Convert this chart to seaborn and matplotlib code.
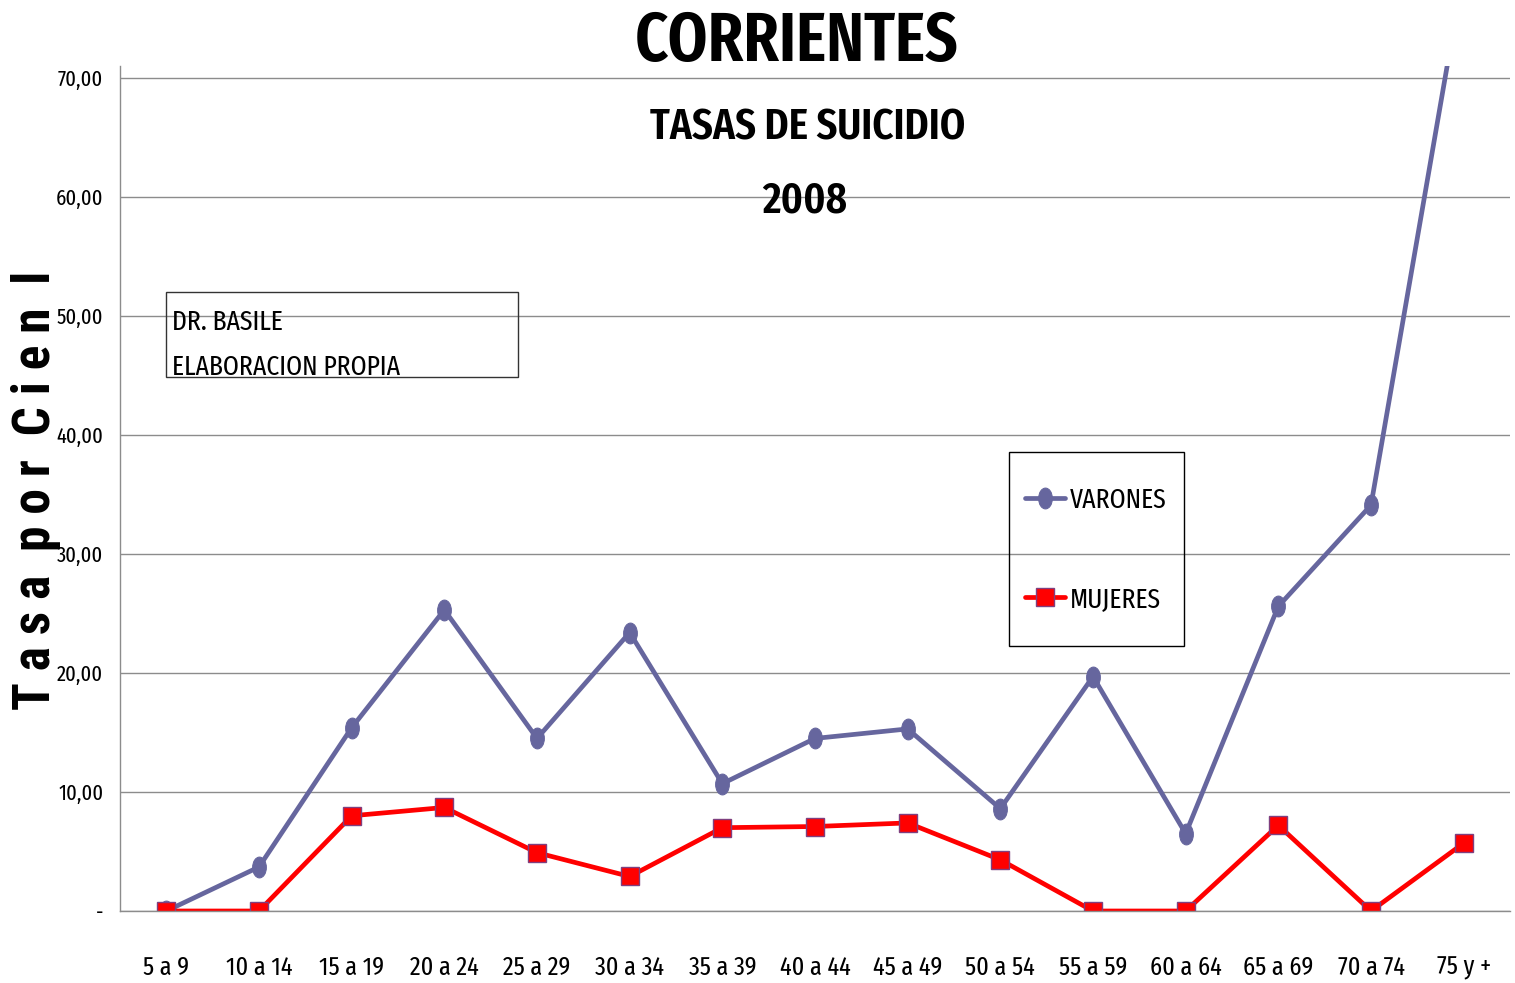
import numpy as np
import pandas as pd
import matplotlib
matplotlib.use("Agg")
import matplotlib.pyplot as plt
import matplotlib.path as mpath
import matplotlib.patches as mpatches
import seaborn as sns

categorias = ["5 a 9", "10 a 14", "15 a 19", "20 a 24", "25 a 29", "30 a 34", "35 a 39",
              "40 a 44", "45 a 49", "50 a 54", "55 a 59", "60 a 64", "65 a 69", "70 a 74", "75 y +"]
varones = [0.0, 3.7, 15.4, 25.3, 14.5, 23.4, 10.7, 14.5, 15.3, 8.6, 19.7, 6.5, 25.6, 34.1, 79.0]
mujeres = [0.0, 0.0, 8.0, 8.7, 4.9, 2.9, 7.0, 7.1, 7.4, 4.3, 0.0, 0.0, 7.2, 0.0, 5.7]
yticks = [0, 10, 20, 30, 40, 50, 60, 70]
ytick_labels = ["-", "10,00", "20,00", "30,00", "40,00", "50,00", "60,00", "70,00"]

sns.set_theme(style="white")
FONT = ["Fira Sans Extra Condensed", "DejaVu Sans"]
YFONT = ["Roboto Condensed", "DejaVu Sans"]
plt.rcParams["font.family"] = FONT

df = pd.concat([
    pd.DataFrame({"grupo": categorias, "tasa": varones, "sexo": "VARONES"}),
    pd.DataFrame({"grupo": categorias, "tasa": mujeres, "sexo": "MUJERES"}),
])

fig = plt.figure(figsize=(15.15, 9.83), dpi=100)
ax = fig.add_axes([120 / 1515, 1 - 911 / 983, 1390 / 1515, (911 - 66) / 983])

ellipse = mpath.Path(mpath.Path.unit_circle().vertices * np.array([0.66, 1.0]),
                     mpath.Path.unit_circle().codes)

sns.lineplot(data=df, x="grupo", y="tasa", hue="sexo", style="sexo", sort=False,
             palette={"VARONES": "#66669E", "MUJERES": "#FF0000"},
             markers={"VARONES": ellipse, "MUJERES": "s"}, dashes=False,
             linewidth=3.4, markersize=15, ax=ax)

for line in ax.get_lines():
    if str(line.get_color()).lower() == "#ff0000":
        line.set_markeredgecolor("#7F3F7F")
        line.set_markeredgewidth(1.0)
        line.set_markersize(13)
    else:
        line.set_markeredgecolor("#66669E")

ax.set_xlim(-0.5, 14.5)
ax.set_ylim(0, 71)
ax.set_yticks(yticks)
ax.set_yticklabels(ytick_labels)
ax.yaxis.grid(True, color="#8C8C8C", linewidth=1.0)
ax.xaxis.grid(False)
for s in ["top", "right"]:
    ax.spines[s].set_visible(False)
for s in ["left", "bottom"]:
    ax.spines[s].set_color("#8C8C8C")
    ax.spines[s].set_linewidth(1.0)
ax.tick_params(axis="y", length=0, pad=12, labelsize=16, labelcolor="black")
ax.tick_params(axis="x", length=0, pad=32, labelsize=19, labelcolor="black")
ax.set_xlabel("")
ax.set_ylabel("")

# legend (frame drawn separately)
handles, labels = ax.get_legend_handles_labels()
leg = ax.legend(handles, labels, loc="upper left",
                bbox_to_anchor=(1025 / 1515, 1 - 487 / 983), bbox_transform=fig.transFigure,
                frameon=False, fontsize=20,
                labelspacing=2.6, borderpad=0, handlelength=1.45, handletextpad=0.18,
                borderaxespad=0)
for t in leg.get_texts():
    t.set_color("black")
legbox = mpatches.Rectangle((1009 / 1515, 1 - 646 / 983), (1184 - 1009) / 1515, (646 - 452) / 983,
                            transform=fig.transFigure, fill=False, edgecolor="black",
                            linewidth=1.0, zorder=5)
fig.patches.append(legbox)

# titles
fig.text(797 / 1515, 1 - 42 / 983, "CORRIENTES", ha="center", va="center",
         fontsize=50, fontweight=600, color="black")
fig.text(808 / 1515, 1 - 128 / 983, "TASAS DE SUICIDIO", ha="center", va="center",
         fontsize=32, fontweight=600, color="black")
fig.text(805 / 1515, 1 - 201 / 983, "2008", ha="center", va="center",
         fontsize=32, fontweight=600, color="black")

# y label
fig.text(36 / 1515, 1 - 490 / 983, "T a s a  p o r  C i e n  l", rotation=90,
         ha="center", va="center", fontsize=37, fontweight="bold", color="black",
         family=YFONT)

# annotation box
rect = mpatches.Rectangle((166 / 1515, 1 - 377 / 983), (518 - 166) / 1515, (377 - 292) / 983,
                          transform=fig.transFigure, fill=False, edgecolor="#333333",
                          linewidth=1.0, zorder=5)
fig.patches.append(rect)
fig.text(172 / 1515, 1 - 322 / 983, "DR. BASILE", ha="left", va="center",
         fontsize=20, color="black")
fig.text(172 / 1515, 1 - 367 / 983, "ELABORACION PROPIA", ha="left", va="center",
         fontsize=20, color="black")

fig.savefig("out.png", dpi=100)
